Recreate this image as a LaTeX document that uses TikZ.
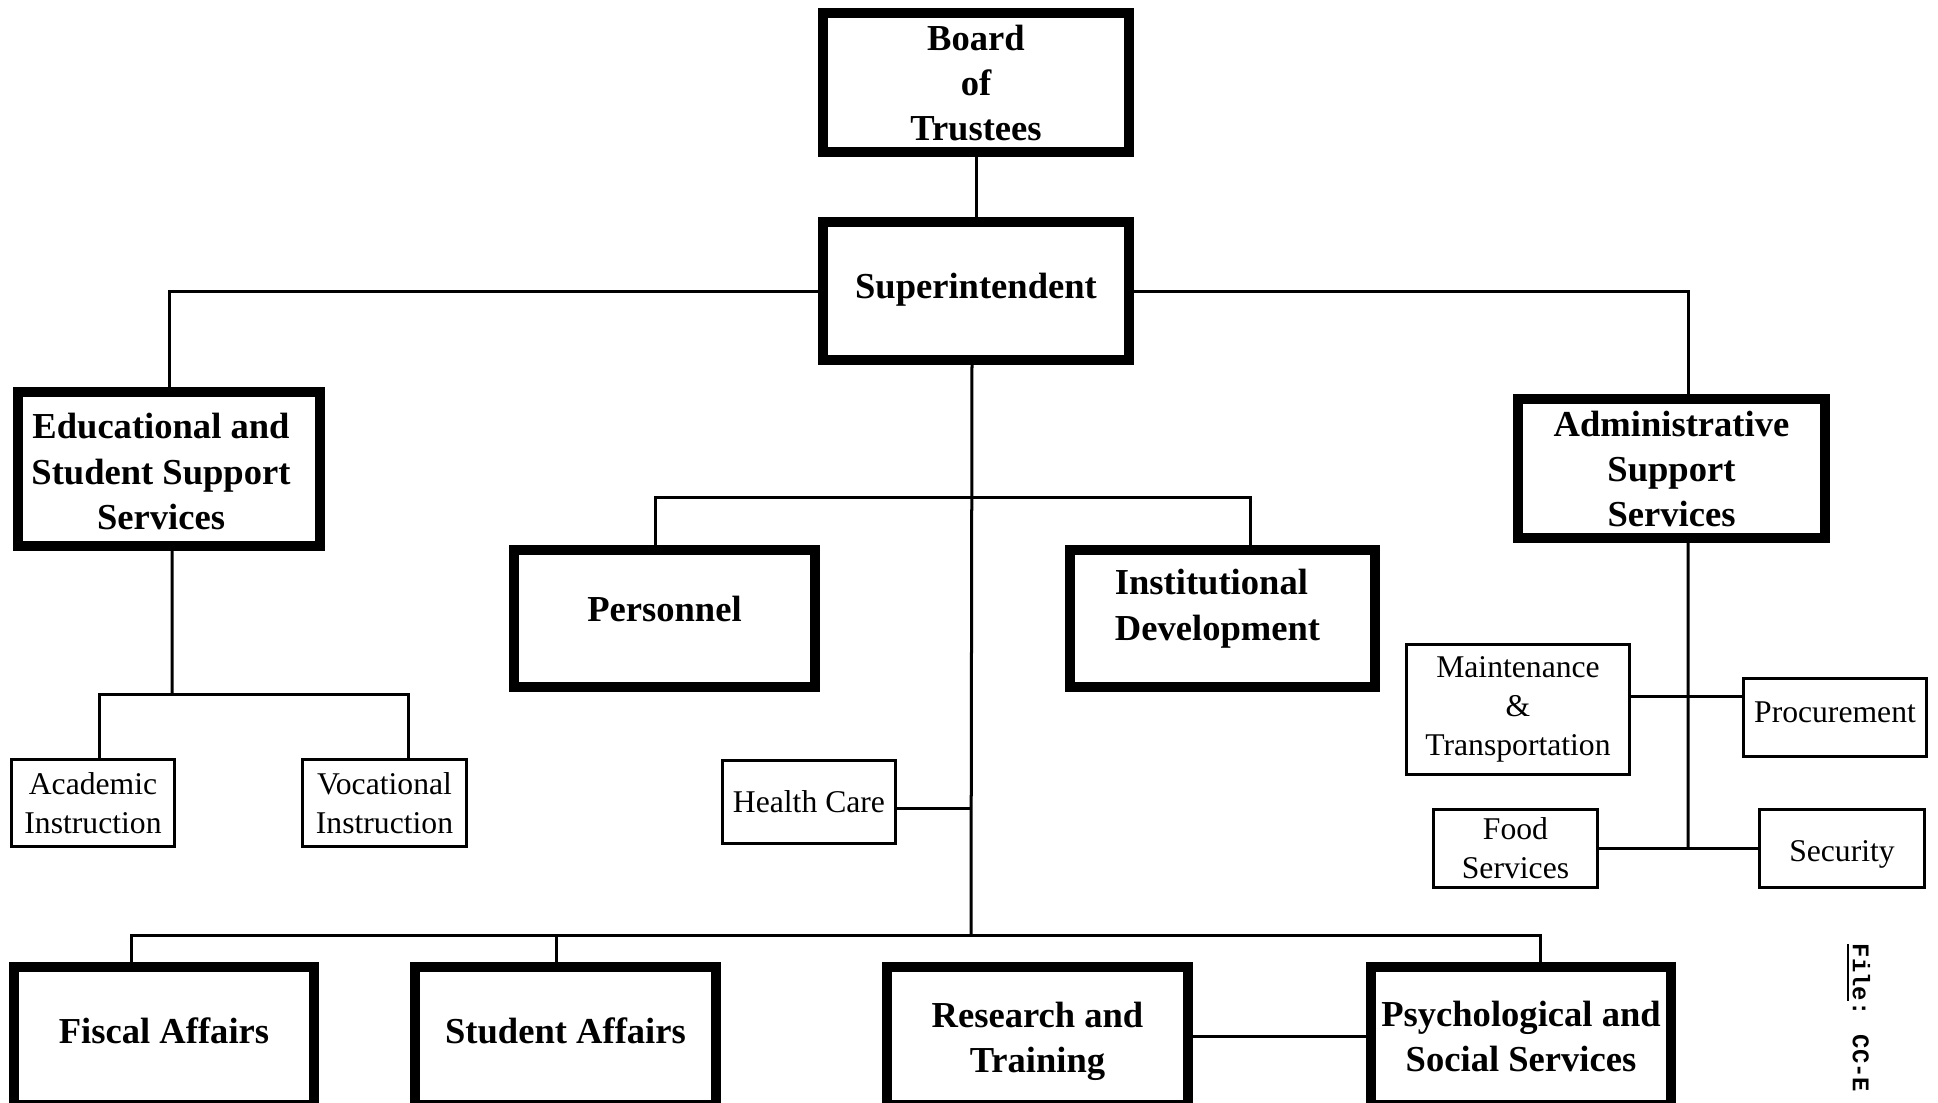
\documentclass[tikz,border=0pt]{standalone}
\usepackage{fontspec}
\setmainfont{Liberation Serif}
\newfontfamily\filefont{Liberation Mono}
\begin{document}
\begin{tikzpicture}[x=0.01cm,y=-0.01cm,
  bigbox/.style={draw, line width=0.1cm, inner sep=0pt, align=center, font=\fontsize{10.4}{12.8}\selectfont\bfseries},
  smallbox/.style={draw, line width=0.035cm, inner sep=1pt, align=center, font=\fontsize{9}{11.1}\selectfont},
  conn/.style={line width=0.03cm}]
\useasboundingbox (0,0) rectangle (1938,1103);
\fill[white] (0,0) rectangle (1938,1103);

% big boxes
\node[bigbox, minimum width=3.06cm, minimum height=1.39cm] (board) at (976,82.5) {\raisebox{-0.04cm}[\height][\depth]{\begin{tabular}{@{}c@{}}Board\\of\\Trustees\end{tabular}}};
\node[bigbox, minimum width=3.06cm, minimum height=1.38cm] (sup) at (976,291) {\raisebox{0.1cm}{Superintendent}};
\node[bigbox, minimum width=3.02cm, minimum height=1.54cm] (edu) at (169,469) {\hspace*{-0.08cm}\raisebox{-0.06cm}[\height][\depth]{\begin{tabular}{@{}c@{}}Educational and\\Student Support\\Services\end{tabular}}\hspace*{0.08cm}};
\node[bigbox, minimum width=3.07cm, minimum height=1.39cm] (admin) at (1671.5,468.5) {Administrative\\Support\\Services};
\node[bigbox, minimum width=3.01cm, minimum height=1.37cm] (pers) at (664.5,618.5) {\raisebox{0.2cm}{Personnel}};
\node[bigbox, minimum width=3.05cm, minimum height=1.37cm] (inst) at (1222.5,618.5) {\hspace*{-0.05cm}\raisebox{0.1cm}[\height][\depth]{\begin{tabular}{@{}l@{}}Institutional\\Development\end{tabular}}\hspace*{0.05cm}};
\node[bigbox, minimum width=3.00cm, minimum height=1.38cm] (fiscal) at (164,1036) {\raisebox{0.1cm}{Fiscal Affairs}};
\node[bigbox, minimum width=3.00cm, minimum height=1.38cm] (student) at (565.5,1036) {\raisebox{0.1cm}{Student Affairs}};
\node[bigbox, minimum width=3.00cm, minimum height=1.38cm] (research) at (1037.5,1036) {\raisebox{-0.05cm}[\height][\depth]{\begin{tabular}{@{}c@{}}Research and\\Training\end{tabular}}};
\node[bigbox, minimum width=3.00cm, minimum height=1.38cm] (psych) at (1521,1036) {Psychological and\\Social Services};

% small boxes
\node[smallbox, minimum width=1.63cm, minimum height=0.87cm] (acad) at (93,803) {Academic\\Instruction};
\node[smallbox, minimum width=1.64cm, minimum height=0.87cm] (voc) at (384.5,803) {Vocational\\Instruction};
\node[smallbox, minimum width=1.73cm, minimum height=0.83cm] (health) at (809,802) {Health Care};
\node[smallbox, minimum width=2.23cm, minimum height=1.30cm] (maint) at (1518,709.5) {Maintenance\\\&\\Transportation};
\node[smallbox, minimum width=1.83cm, minimum height=0.78cm] (proc) at (1835,717.5) {\raisebox{0.1cm}{Procurement}};
\node[smallbox, minimum width=1.64cm, minimum height=0.78cm] (food) at (1515.5,848.5) {Food\\Services};
\node[smallbox, minimum width=1.65cm, minimum height=0.78cm] (sec) at (1842,848.5) {\raisebox{-0.06cm}[\height][\depth]{Security}};

% junction coordinates
\coordinate (ub) at (973,497);
\coordinate (bb) at (971,935);
\coordinate (eb) at (172,694);
\coordinate (ab1) at (1688,696);
\coordinate (ab2) at (1688,848);

% connectors
\draw[conn] (board) -- (sup);
\draw[conn] (sup.west) -| (edu.north);
\draw[conn] (sup.east) -| ([xshift=0.165cm]admin.north);
\draw[conn] ([xshift=-0.04cm]sup.south) -- (bb);
\draw[conn] ([xshift=-0.085cm]pers.north) |- (ub) -| ([xshift=0.275cm]inst.north);
\draw[conn] ([yshift=-0.06cm]health.east) -- ([yshift=-0.06cm]health.east -| bb);
\draw[conn] ([xshift=-0.32cm]fiscal.north) |- (bb) -| ([xshift=0.19cm]psych.north);
\draw[conn] ([xshift=-0.085cm]student.north) -- ([xshift=-0.085cm]student.north |- bb);
\draw[conn] (research.east) -- (psych.west);
\draw[conn] ([xshift=0.03cm]edu.south) -- (eb);
\draw[conn] ([xshift=0.06cm]acad.north) |- (eb) -| ([xshift=0.235cm]voc.north);
\draw[conn] ([xshift=0.165cm]admin.south) -- (ab2);
\draw[conn] (maint.east |- ab1) -- (proc.west |- ab1);
\draw[conn] (food.east |- ab2) -- (sec.west |- ab2);

% file label
\node[rotate=-90, font=\fontsize{6.8}{8}\selectfont\filefont\bfseries, inner sep=0pt] (file) at (1858,1018) {\underline{File}: CC-E};
\end{tikzpicture}
\end{document}
